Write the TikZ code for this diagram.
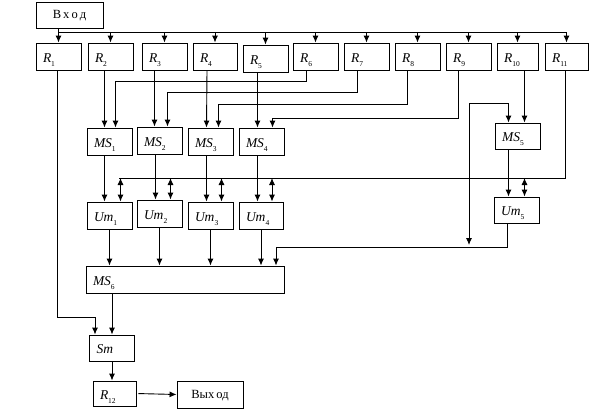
\documentclass[tikz,border=0pt]{standalone}
\usepackage{fontspec}
\setmainfont{Liberation Serif}
\usetikzlibrary{arrows.meta, positioning, calc}

% indeksirovannaya metka: kursiv + nizhnii indeks
\newcommand{\ind}[2]{\textit{#1}\raisebox{-0.7ex}{\fontsize{7.5}{8}\selectfont #2}}

\begin{document}
\begin{tikzpicture}[
        x=1pt, y=-1pt, % 1 piksel' = 1pt, os' y vniz
        blok/.style={rectangle, draw, line width=0.9pt, minimum height=27pt, text width=31pt, text height=11pt, text depth=0pt, inner xsep=7pt, inner ysep=0pt, align=left, font=\fontsize{13.5}{15}\selectfont},
        slovo/.style={blok, text height=7pt, inner xsep=5pt, align=center, font=\fontsize{12.5}{14}\selectfont},
        seta/.style={->, >={Latex[length=7pt,width=6pt]}, line width=0.9pt},
        dvoe/.style={<->, >={Latex[length=7pt,width=6pt]}, line width=0.9pt},
        liniya/.style={line width=0.9pt}
        ]
        \useasboundingbox (0,0) rectangle (589,410);

        % Vkhod i registry
        \node[slovo, text width=57pt, minimum height=26pt] (vhod) at (69.5,15) {В\,х\,о\,д};
        \node[blok] (r1) at (58.5,56.5) {\ind{R}{1}};
        \node[blok] (r2) at (110.5,56.5) {\ind{R}{2}};
        \node[blok] (r3) at (164.5,56.5) {\ind{R}{3}};
        \node[blok, text width=30pt] (r4) at (215,56.5) {\ind{R}{4}};
        \node[blok] (r5) at (265.5,58.5) {\ind{R}{5}};
        \node[blok] (r6) at (315.5,56.5) {\ind{R}{6}};
        \node[blok] (r7) at (366.5,56.5) {\ind{R}{7}};
        \node[blok] (r8) at (417.5,56.5) {\ind{R}{8}};
        \node[blok] (r9) at (468.5,56.5) {\ind{R}{9}};
        \node[blok, text width=27pt] (r10) at (517.5,56.5) {\ind{R}{10}};
        \node[blok, text width=29pt] (r11) at (566.5,56.5) {\ind{R}{11}};

        % Multipleksory
        \node[blok] (ms1) at (109.5,141.5) {\ind{MS}{1}};
        \node[blok] (ms2) at (159.5,140.5) {\ind{MS}{2}};
        \node[blok] (ms3) at (210.5,141.5) {\ind{MS}{3}};
        \node[blok] (ms4) at (261.5,141.5) {\ind{MS}{4}};
        \node[blok, minimum height=26pt] (ms5) at (517.5,136) {\ind{MS}{5}};

        % Umnozhiteli
        \node[blok] (um1) at (109.5,215.5) {\ind{Um}{1}};
        \node[blok] (um2) at (159.5,213.5) {\ind{Um}{2}};
        \node[blok] (um3) at (210.5,215.5) {\ind{Um}{3}};
        \node[blok, text width=30pt] (um4) at (261,215.5) {\ind{Um}{4}};
        \node[blok, minimum height=26pt] (um5) at (516.5,210) {\ind{Um}{5}};

        % MS6, summator, vykhodnoi registr
        \node[blok, text width=184pt] (ms6) at (185,279.5) {\ind{MS}{6}};
        \node[blok, minimum height=26pt] (sm) at (112,348) {\textit{Sm}};
        \node[blok, text width=29pt, minimum height=25pt] (r12) at (114.5,393.5) {\ind{R}{12}};
        \node[slovo, text width=56pt] (vyhod) at (210,394.5) {Вых\,од};

        \coordinate (bus) at (0,32);
        \coordinate (kbus) at (0,178);
        \coordinate (obh) at (469,103);
        \coordinate (um5out) at (0,247);

        % Shina vkhoda
        \draw[seta] (vhod.south -| r1) -- (r1.north);
        \draw[liniya] (r1.north |- bus) -- (r11.north |- bus);
        \foreach \k in {2,...,11}
            \draw[seta] (r\k.north |- bus) -- (r\k.north);

        % Registry -> multipleksory
        \draw[seta] ([xshift=-6pt]r2.south) -- ([xshift=-5pt]ms1.north);
        \draw[seta] ([xshift=-10pt]r3.south) -- ([xshift=-5pt]ms2.north);
        \draw[seta] ([xshift=-8pt]r4.south) -- ([xshift=-4pt]ms3.north);
        \draw[seta] ([xshift=-8pt]r5.south) -- ([xshift=-4pt]ms4.north);
        \draw[seta] ([xshift=-9pt]r6.south) -- ++(0,11) -| ([xshift=6pt]ms1.north);
        \draw[seta] ([xshift=-9pt]r7.south) -- ++(0,22) -| ([xshift=8pt]ms2.north);
        \draw[seta] ([xshift=-10pt]r8.south) -- ++(0,34) -| ([xshift=8pt]ms3.north);
        \draw[seta] ([xshift=-10pt]r9.south) -- ++(0,48) -| ([xshift=11pt]ms4.north);
        \draw[seta] ([xshift=7pt]r10.south) -- ([xshift=7pt]ms5.north);
        \draw[seta] (obh) -| ([xshift=-9pt]ms5.north);
        \draw[seta] (obh) -- ++(0,142);

        % Multipleksory -> umnozhiteli
        \draw[seta] ([xshift=-5pt]ms1.south) -- ([xshift=-5pt]ms1.south |- um1.north);
        \foreach \k in {2,3,4}
            \draw[seta] ([xshift=-4pt]ms\k.south) -- ([xshift=-4pt]ms\k.south |- um\k.north);
        \draw[seta] ([xshift=-9pt]ms5.south) -- ([xshift=-9pt]ms5.south |- um5.north);

        % Shina R11 k umnozhitelyam
        \draw[liniya] ([xshift=-1pt]r11.south) |- ([xshift=9pt]um1.north |- kbus);
        \foreach \k in {1,2,3,4}
            \draw[dvoe] ([xshift=11pt]um\k.north |- kbus) -- ([xshift=11pt]um\k.north);
        \draw[dvoe] ([xshift=8pt]um5.north |- kbus) -- ([xshift=8pt]um5.north);

        % Umnozhiteli -> MS6
        \foreach \k in {1,2,3,4}
            \draw[seta] (um\k.south) -- (um\k.south |- ms6.north);
        \draw[seta] ([xshift=-9pt]um5.south) |- ([xshift=91pt]ms6.north |- um5out) -- ([xshift=91pt]ms6.north);

        % MS6 i R1 -> summator -> R12 -> vykhod
        \draw[seta] (sm.north |- ms6.south) -- (sm.north);
        \draw[seta] ([xshift=-1pt]r1.south) -- ++(0,247) -| ([xshift=-17pt]sm.north);
        \draw[seta] (sm.south) -- (sm.south |- r12.north);
        \draw[seta, shorten <=2pt] (r12.east) -- (vyhod.west);

    \end{tikzpicture}
\end{document}
